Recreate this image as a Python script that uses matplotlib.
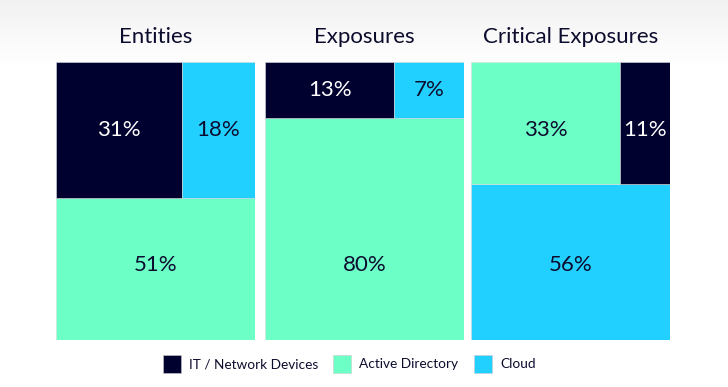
import numpy as np
import matplotlib.pyplot as plt
from matplotlib.patches import Rectangle

plt.rcParams['font.family'] = ['Lato', 'DejaVu Sans']

# data
titulos = ['Entities', 'Exposures', 'Critical Exposures']
categorias = ['IT / Network Devices', 'Active Directory', 'Cloud']
colores = {'IT / Network Devices': '#01012f',
           'Active Directory': '#6cffc6',
           'Cloud': '#22d0ff'}
# (bottom full-width block, top-left block, top-right block)
bloques = [
    [('Active Directory', 51), ('IT / Network Devices', 31), ('Cloud', 18)],
    [('Active Directory', 80), ('IT / Network Devices', 13), ('Cloud', 7)],
    [('Cloud', 56), ('Active Directory', 33), ('IT / Network Devices', 11)],
]

W, H = 728, 387
fig = plt.figure(figsize=(W / 100, H / 100), dpi=100)

# fondo con degradado gris arriba
fondo = fig.add_axes([0, 0, 1, 1])
grad = np.ones((H, 1))
grad[:70, 0] = np.linspace(0.945, 1.0, 70)
fondo.imshow(grad, cmap='gray', vmin=0, vmax=1, aspect='auto', extent=[0, 1, 0, 1])
fondo.axis('off')

texto_oscuro = '#0c0c2e'
paneles_x = [56, 265, 471]
ancho, y0, y1 = 199, 62, 340


def px(x, y, w, h):
    return [x / W, 1 - (y + h) / H, w / W, h / H]


for i, (titulo, datos) in enumerate(zip(titulos, bloques)):
    ax = fig.add_axes(px(paneles_x[i], y0, ancho, y1 - y0))
    ax.set_xlim(0, 1)
    ax.set_ylim(0, 1)
    ax.axis('off')
    (cat_b, v_b), (cat_l, v_l), (cat_r, v_r) = datos
    hb = v_b / 100
    wl = v_l / (v_l + v_r)
    rects = [(cat_b, v_b, 0, 0, 1, hb),
             (cat_l, v_l, 0, hb, wl, 1 - hb),
             (cat_r, v_r, wl, hb, 1 - wl, 1 - hb)]
    for j, (cat, v, x, y, w, h) in enumerate(rects):
        ax.add_patch(Rectangle((x, y), w, h, facecolor=colores[cat],
                               edgecolor='#d8dde0', linewidth=0.4))
        c = 'white' if cat == 'IT / Network Devices' else texto_oscuro
        # abajo a altura fija; arriba centrado si el bloque es bajo
        if j == 0:
            ty = 0.27
        elif h < 0.3:
            ty = y + h / 2
        else:
            ty = 0.755
        ax.text(x + w / 2, ty, f'{v}%', ha='center', va='center',
                fontsize=16, color=c)
    fig.text((paneles_x[i] + ancho / 2) / W, 1 - 37 / H, titulo,
             ha='center', va='center', fontsize=16, color=texto_oscuro)

# leyenda
ley = fig.add_axes([0, 0, 1, 1], facecolor='none')
ley.set_xlim(0, W)
ley.set_ylim(H, 0)
ley.axis('off')
ley_x = [163, 333, 474]
for cat, x in zip(categorias, ley_x):
    ley.add_patch(Rectangle((x, 355), 18, 18, facecolor=colores[cat],
                            edgecolor='#cccccc', linewidth=0.4))
    ley.text(x + 26, 364.5, cat, va='center', ha='left', fontsize=9.8,
             color=texto_oscuro)

fig.savefig('out.png', dpi=100)
